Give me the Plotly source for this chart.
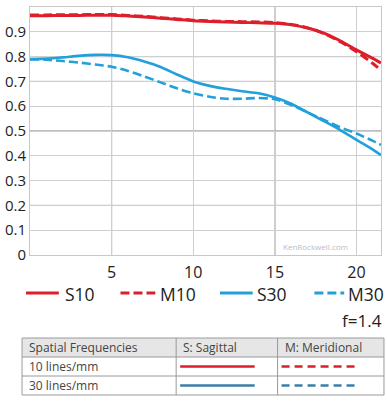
import plotly.graph_objects as go

# ---- data ----
freq_x = [0, 1, 2, 3, 4, 5, 6, 7, 8, 9, 10, 11, 12, 13, 14, 15, 16, 17, 18, 19, 20, 21, 21.5]
s10 = [0.965, 0.965, 0.966, 0.966, 0.967, 0.967, 0.964, 0.960, 0.955, 0.950, 0.945, 0.942, 0.940, 0.938, 0.936, 0.934, 0.928, 0.915, 0.895, 0.864, 0.827, 0.793, 0.774]
m10 = [0.968, 0.968, 0.969, 0.969, 0.970, 0.970, 0.966, 0.962, 0.957, 0.952, 0.947, 0.944, 0.942, 0.941, 0.940, 0.937, 0.930, 0.916, 0.893, 0.860, 0.820, 0.772, 0.745]
s30 = [0.790, 0.792, 0.797, 0.803, 0.807, 0.806, 0.797, 0.780, 0.758, 0.728, 0.700, 0.682, 0.670, 0.660, 0.652, 0.635, 0.610, 0.575, 0.540, 0.504, 0.464, 0.425, 0.403]
m30 = [0.789, 0.787, 0.782, 0.776, 0.768, 0.759, 0.742, 0.720, 0.696, 0.672, 0.652, 0.638, 0.630, 0.630, 0.633, 0.628, 0.605, 0.575, 0.545, 0.515, 0.490, 0.460, 0.444]

series_names = ["S10", "M10", "S30", "M30"]
x_ticks = [5, 10, 15, 20]
y_ticks = [0, 0.1, 0.2, 0.3, 0.4, 0.5, 0.6, 0.7, 0.8, 0.9, 1]
y_tick_labels = ["0", "0.1", "0.2", "0.3", "0.4", "0.5", "0.6", "0.7", "0.8", "0.9", "1"]
dark_y_grid = [0.2, 0.5, 0.7, 0.8]
dark_x_grid = [5, 15]
aperture = "f=1.4"
table_header = ["Spatial Frequencies", "S: Sagittal", "M: Meridional"]
table_rows = ["10 lines/mm", "30 lines/mm"]
watermark = "KenRockwell.com"

RED = "#dc1f2b"
BLUE = "#22a0db"
TBLUE = "#3b7ea6"
FONT = "Open Sans"
DASH = "9px,4px"

W, H = 387, 402
L, R, T, B = 29, 382, 7, 255


def px(xp):
    return (xp - L) / (R - L)


def py(yp):
    return (B - yp) / (B - T)


fig = go.Figure()
styles = [(s10, RED, "solid", 3), (m10, RED, DASH, 3), (s30, BLUE, "solid", 2.6), (m30, BLUE, DASH, 2.6)]
for name, (vals, col, dash, w) in zip(series_names, styles):
    fig.add_trace(go.Scatter(x=freq_x, y=vals, mode="lines", name=name, showlegend=False,
                             line=dict(color=col, dash=dash, width=w, shape="spline", smoothing=0.8)))

shapes = []
for v in dark_y_grid:
    shapes.append(dict(type="line", xref="paper", yref="y", x0=0, x1=1, y0=v, y1=v,
                       line=dict(color="#7a7a7a", width=1), layer="below"))
for v in dark_x_grid:
    shapes.append(dict(type="line", xref="x", yref="paper", x0=v, x1=v, y0=0, y1=1,
                       line=dict(color="#7a7a7a", width=1), layer="below"))

annotations = []

# legend row (drawn as key lines + labels)
leg_line_x = [(25, 58), (120, 155), (220, 253), (315, 345)]
leg_text_x = [62, 158, 255, 347]
leg_y = 293
for name, (vals, col, dash, w), (a, b), tx in zip(series_names, styles, leg_line_x, leg_text_x):
    shapes.append(dict(type="line", xref="paper", yref="paper", x0=px(a), x1=px(b), y0=py(leg_y), y1=py(leg_y),
                       line=dict(color=col, width=3, dash=dash)))
    annotations.append(dict(text=name, xref="paper", yref="paper", x=px(tx), y=py(leg_y + 1),
                            xanchor="left", yanchor="middle", showarrow=False,
                            font=dict(size=17.5, color="#222", family=FONT)))

# table
cols = [21, 176, 278, 385]
rows = [338, 357, 376, 395]
shapes.append(dict(type="rect", xref="paper", yref="paper", x0=px(cols[0]), x1=px(cols[3]),
                   y0=py(rows[0]), y1=py(rows[1]), fillcolor="#e6e6e6", line=dict(width=0), layer="above"))
for r in rows:
    shapes.append(dict(type="line", xref="paper", yref="paper", x0=px(cols[0]), x1=px(cols[3]),
                       y0=py(r), y1=py(r), line=dict(color="#9a9a9a", width=1)))
for c in cols:
    shapes.append(dict(type="line", xref="paper", yref="paper", x0=px(c), x1=px(c),
                       y0=py(rows[0]), y1=py(rows[3]), line=dict(color="#9a9a9a", width=1)))
for i, col in enumerate([RED, TBLUE]):
    yc = py((rows[i + 1] + rows[i + 2]) / 2)
    shapes.append(dict(type="line", xref="paper", yref="paper", x0=px(180), x1=px(255), y0=yc, y1=yc,
                       line=dict(color=col, width=2.5)))
    shapes.append(dict(type="line", xref="paper", yref="paper", x0=px(282), x1=px(359), y0=yc, y1=yc,
                       line=dict(color=col, width=2.5, dash="8px,5px")))

for txt, c in zip(table_header, [26, 181, 283]):
    annotations.append(dict(text=txt, xref="paper", yref="paper", x=px(c), y=py((rows[0] + rows[1]) / 2),
                            xanchor="left", yanchor="middle", showarrow=False,
                            font=dict(size=12, color="#444", family=FONT)))
for i, txt in enumerate(table_rows):
    annotations.append(dict(text=txt, xref="paper", yref="paper", x=px(26), y=py((rows[i + 1] + rows[i + 2]) / 2),
                            xanchor="left", yanchor="middle", showarrow=False,
                            font=dict(size=12, color="#444", family=FONT)))
annotations.append(dict(text=aperture, xref="paper", yref="paper", x=px(385), y=py(320),
                        xanchor="right", yanchor="middle", showarrow=False,
                        font=dict(size=17, color="#222", family=FONT)))
annotations.append(dict(text=watermark, xref="paper", yref="paper", x=px(316), y=py(246),
                        xanchor="center", yanchor="middle", showarrow=False,
                        font=dict(size=8, color="#bdbdbd", family=FONT)))

fig.update_layout(
    width=W, height=H,
    margin=dict(l=L, r=W - R, t=T, b=H - B, pad=0),
    paper_bgcolor="white", plot_bgcolor="white",
    font=dict(family=FONT, color="#222"),
    showlegend=False,
    xaxis=dict(range=[0, 21.5], tickvals=x_ticks, showgrid=True, gridcolor="#cfcfcf", gridwidth=1,
               zeroline=False, showline=True, linecolor="#c8c8c8", mirror=True,
               ticks="outside", ticklen=3, tickcolor="rgba(0,0,0,0)",
               tickfont=dict(size=16, color="#222", family=FONT)),
    yaxis=dict(range=[0, 1], tickvals=y_ticks, ticktext=y_tick_labels, showgrid=True,
               gridcolor="#cfcfcf", gridwidth=1, zeroline=False, showline=True, linecolor="#c8c8c8",
               mirror=True, ticks="", tickfont=dict(size=15, color="#222", family=FONT)),
    shapes=shapes, annotations=annotations,
)

fig.write_html("out.html", config={"displayModeBar": False},
               post_script="document.body.style.margin='0';document.body.style.overflow='hidden';")
